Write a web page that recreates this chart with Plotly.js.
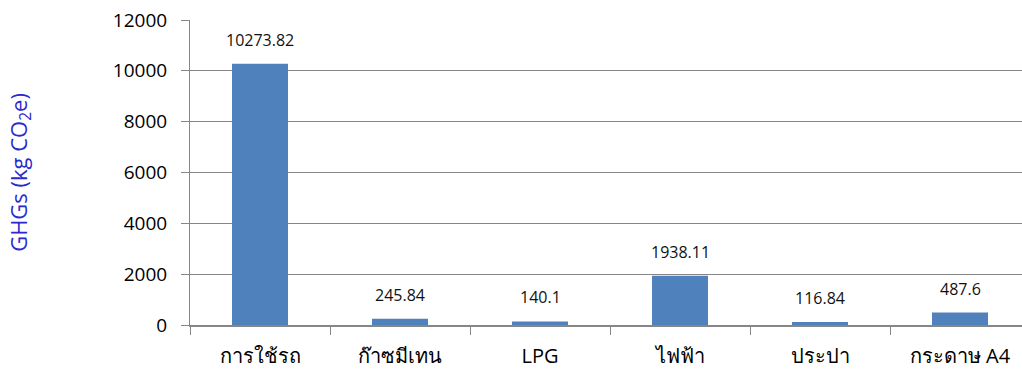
<!DOCTYPE html>
<html>
<head>
<meta charset="utf-8">
<script src="https://cdn.plot.ly/plotly-3.0.1.min.js"></script>
<style>html,body{margin:0;padding:0;background:#fff;overflow:hidden;}</style>
</head>
<body>
<div id="chart"></div>
<script>
const categories = ["การใช้รถ", "ก๊าซมีเทน", "LPG", "ไฟฟ้า", "ประปา", "กระดาษ A4"];
const values = [10273.82, 245.84, 140.1, 1938.11, 116.84, 487.6];
const yTicks = [0, 2000, 4000, 6000, 8000, 10000, 12000];

const font = "'Segoe UI', 'Open Sans', 'Noto Sans', 'Liberation Sans', sans-serif";

const trace = {
  type: 'bar',
  x: categories,
  y: values,
  marker: {color: '#4f81bd'},
  width: 0.4,
  hoverinfo: 'none'
};

const annotations = categories.map((c, i) => ({
  x: c, y: values[i], xref: 'x', yref: 'y',
  text: String(values[i]), showarrow: false,
  yanchor: 'bottom', yshift: 11,
  font: {family: font, size: 16, color: '#111'}
}));

const layout = {
  width: 1030, height: 378,
  margin: {l: 190, r: 0, t: 20, b: 53},
  paper_bgcolor: '#fff', plot_bgcolor: '#fff',
  showlegend: false,
  bargap: 0.6,
  xaxis: {
    type: 'category',
    showline: true, linecolor: '#868686', linewidth: 2,
    ticks: 'outside', tickson: 'boundaries', ticklen: 8, tickcolor: '#868686', tickwidth: 1,
    tickfont: {family: font, size: 20, color: '#000'},
    ticklabelstandoff: 12,
    showgrid: false, zeroline: false,
    range: [-0.5, 5.5]
  },
  yaxis: {
    range: [0, 12000],
    tickvals: yTicks,
    ticktext: yTicks.map(String),
    showline: true, linecolor: '#868686', linewidth: 1,
    ticks: 'outside', ticklen: 8, tickcolor: '#868686',
    showgrid: true, gridcolor: '#868686', gridwidth: 1,
    zeroline: false,
    tickfont: {family: font, size: 19, color: '#000'},
    ticklabelstandoff: 10,
    title: {text: 'GHGs (kg CO<sub>2</sub>e)', font: {family: font, size: 22, color: '#2a2ad0'}, standoff: 79}
  },
  annotations: annotations
};

Plotly.newPlot('chart', [trace], layout, {displayModeBar: false, staticPlot: true});
</script>
</body>
</html>
